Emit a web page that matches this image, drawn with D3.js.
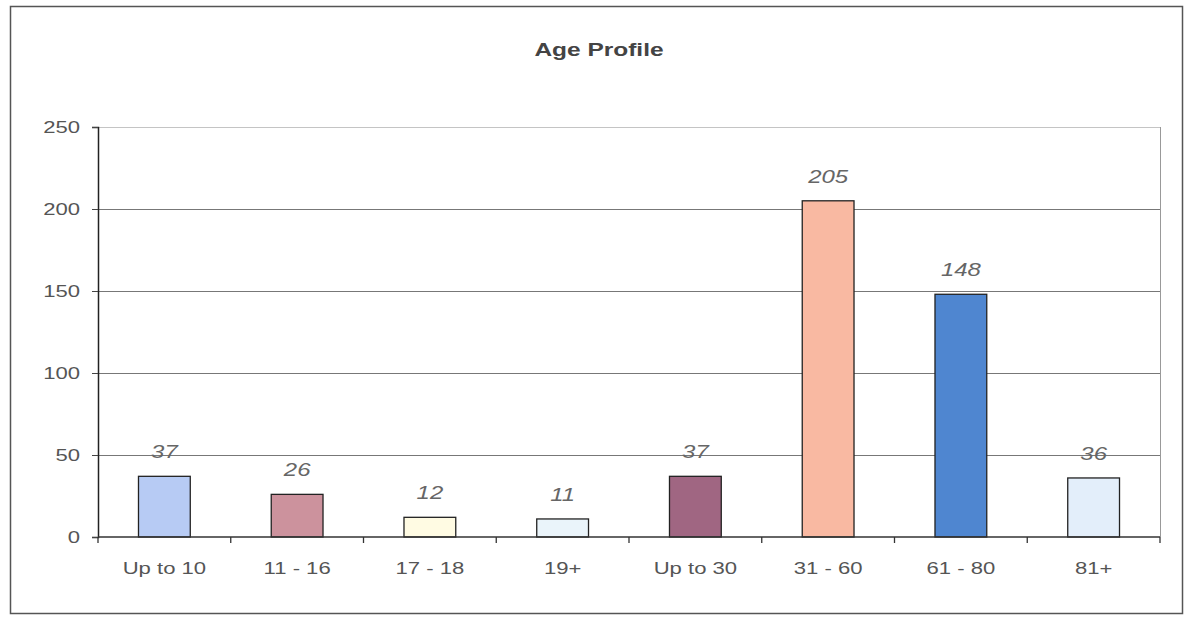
<!DOCTYPE html>
<html>
<head>
<meta charset="utf-8">
<script src="https://cdn.jsdelivr.net/npm/d3@7"></script>
<style>
  body { margin: 0; background: #fff; }
  text { font-family: "Liberation Sans", Arial, sans-serif; }
</style>
</head>
<body>
<div class="chart"></div>
<script>
// chart data
var categories = ["Up to 10", "11 - 16", "17 - 18", "19+", "Up to 30", "31 - 60", "61 - 80", "81+"];
var values = [37, 26, 12, 11, 37, 205, 148, 36];
var barColors = ["#b7cbf4", "#cc929d", "#fffbe3", "#eaf4fa", "#a06682", "#f9b9a2", "#4f86d0", "#e3eefa"];
var yTicks = [0, 50, 100, 150, 200, 250];

drawbar();

function drawbar() {
  var svgWidth = 1189, svgHeight = 617;
  var margin = {top: 127, right: 29, bottom: 80, left: 98};
  var chart_width = svgWidth - margin.left - margin.right,
      chart_height = svgHeight - margin.top - margin.bottom;

  // the scanned text is wide, so stretch glyphs horizontally
  var stretch = 1.3;

  var svg = d3.select(".chart")
    .append("svg")
      .attr("width", svgWidth)
      .attr("height", svgHeight);

  // outer frame
  svg.append("rect")
    .attr("x", 10.5).attr("y", 6.5)
    .attr("width", 1172).attr("height", 607)
    .attr("fill", "none")
    .attr("stroke", "#555")
    .attr("stroke-width", 1.5);

  svg.append("text")
    .attr("transform", "translate(599,56) scale(1.36,1)")
    .attr("text-anchor", "middle")
    .attr("font-size", 18)
    .attr("font-weight", "bold")
    .attr("fill", "#444")
    .text("Age Profile");

  var g = svg.append("g")
    .attr("transform", "translate(" + margin.left + "," + margin.top + ")");

  var x = d3.scaleBand()
    .domain(categories)
    .range([0, chart_width])
    .paddingInner(0.61)
    .paddingOuter(0.305);

  var y = d3.scaleLinear()
    .domain([0, 250])
    .range([chart_height, 0]);

  // gridlines
  g.selectAll(".grid")
    .data(yTicks.filter(function(d) { return d > 0; }))
    .enter()
    .append("line")
      .attr("x1", 0).attr("x2", chart_width)
      .attr("y1", function(d) { return y(d) + 0.5; })
      .attr("y2", function(d) { return y(d) + 0.5; })
      .attr("stroke", function(d) { return d == 250 ? "#c4c4c4" : "#777"; })
      .attr("stroke-width", 1);

  // right border of plot area
  g.append("line")
    .attr("x1", chart_width + 0.5).attr("x2", chart_width + 0.5)
    .attr("y1", 0).attr("y2", chart_height)
    .attr("stroke", "#999");

  // bars
  g.selectAll(".bar")
    .data(values)
    .enter()
    .append("rect")
      .attr("x", function(d, i) { return x(categories[i]); })
      .attr("y", function(d) { return y(d); })
      .attr("width", x.bandwidth())
      .attr("height", function(d) { return chart_height - y(d); })
      .attr("fill", function(d, i) { return barColors[i]; })
      .attr("stroke", "#222")
      .attr("stroke-width", 1.3);

  // value labels
  g.selectAll(".val")
    .data(values)
    .enter()
    .append("text")
      .attr("transform", function(d, i) {
        return "translate(" + (x(categories[i]) + x.bandwidth() / 2) + "," + (y(d) - 18) + ") scale(1.33,1)";
      })
      .attr("text-anchor", "middle")
      .attr("font-size", 18)
      .attr("font-style", "italic")
      .attr("fill", "#666")
      .text(function(d) { return d; });

  // y axis
  var yAxis = g.append("g")
    .call(d3.axisLeft(y).tickValues(yTicks).tickSize(6).tickPadding(10));
  yAxis.select(".domain").attr("stroke", "#222").attr("stroke-width", 1.5);
  yAxis.selectAll(".tick line").attr("stroke", "#444");
  yAxis.selectAll("text")
    .attr("x", 0)
    .attr("transform", "translate(-18,0) scale(" + stretch + ",1)")
    .attr("font-size", 17)
    .attr("fill", "#555");

  // x axis: ticks between categories
  var xAxis = g.append("g")
    .attr("transform", "translate(0," + chart_height + ")");
  xAxis.append("line")
    .attr("x1", 0).attr("x2", chart_width)
    .attr("stroke", "#333").attr("stroke-width", 1.3);
  xAxis.selectAll(".xtick")
    .data(d3.range(categories.length + 1))
    .enter()
    .append("line")
      .attr("x1", function(i) { return i * x.step(); })
      .attr("x2", function(i) { return i * x.step(); })
      .attr("y1", 0).attr("y2", 6)
      .attr("stroke", "#333").attr("stroke-width", 1.3);
  xAxis.selectAll(".xlab")
    .data(categories)
    .enter()
    .append("text")
      .attr("transform", function(d) {
        return "translate(" + (x(d) + x.bandwidth() / 2) + ",37) scale(" + stretch + ",1)";
      })
      .attr("text-anchor", "middle")
      .attr("font-size", 17)
      .attr("fill", "#555")
      .text(function(d) { return d; });
}
</script>
</body>
</html>
